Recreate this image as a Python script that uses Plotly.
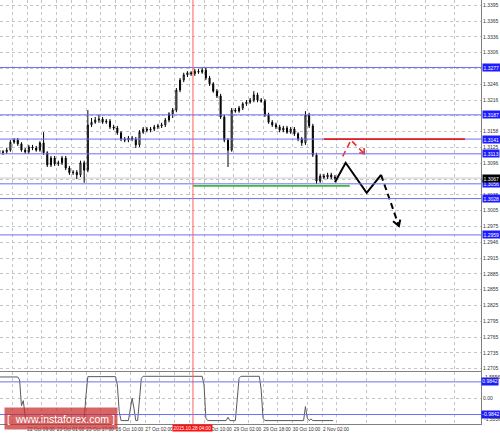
import plotly.graph_objects as go

# ---------------- data ----------------
# 2-hour candles, x = hourly bar index (0 = 21 Oct 17:00)
bar_index = [2 * k + 1 for k in range(92)]
opens = [1.3120,1.3115,1.3117,1.3120,1.3135,1.3139,1.3132,1.3120,1.3117,1.3126,
         1.3124,1.3120,1.3134,1.3115,1.3092,1.3105,1.3094,1.3096,1.3105,1.3086,
         1.3077,1.3078,1.3073,1.3096,1.3082,1.3168,1.3173,1.3177,1.3179,1.3173,
         1.3175,1.3164,1.3162,1.3153,1.3141,1.3139,1.3143,1.3141,1.3130,1.3154,
         1.3160,1.3158,1.3160,1.3164,1.3166,1.3168,1.3177,1.3189,1.3196,1.3234,
         1.3253,1.3263,1.3267,1.3265,1.3270,1.3268,1.3272,1.3257,1.3246,1.3232,
         1.3223,1.3183,1.3139,1.3120,1.3196,1.3194,1.3200,1.3208,1.3211,1.3215,
         1.3225,1.3215,1.3213,1.3187,1.3173,1.3168,1.3164,1.3158,1.3162,1.3154,
         1.3160,1.3151,1.3141,1.3134,1.3187,1.3166,1.3111,1.3061,1.3071,1.3069,
         1.3073,1.3069]
highs = [1.3124,1.3120,1.3124,1.3139,1.3143,1.3143,1.3135,1.3124,1.3130,1.3130,
         1.3128,1.3137,1.3154,1.3118,1.3109,1.3109,1.3100,1.3109,1.3109,1.3090,
         1.3082,1.3082,1.3100,1.3100,1.3196,1.3181,1.3183,1.3187,1.3183,1.3179,
         1.3179,1.3168,1.3166,1.3156,1.3145,1.3147,1.3147,1.3145,1.3158,1.3164,
         1.3164,1.3164,1.3168,1.3170,1.3172,1.3181,1.3192,1.3200,1.3238,1.3257,
         1.3267,1.3270,1.3270,1.3274,1.3274,1.3278,1.3276,1.3261,1.3249,1.3236,
         1.3227,1.3187,1.3143,1.3200,1.3200,1.3204,1.3211,1.3215,1.3219,1.3232,
         1.3229,1.3219,1.3217,1.3191,1.3177,1.3172,1.3168,1.3166,1.3166,1.3164,
         1.3164,1.3154,1.3145,1.3194,1.3191,1.3170,1.3115,1.3075,1.3075,1.3077,
         1.3077,1.3073]
lows = [1.3078,1.3111,1.3113,1.3117,1.3132,1.3128,1.3117,1.3113,1.3113,1.3120,
        1.3117,1.3117,1.3111,1.3088,1.3088,1.3090,1.3090,1.3092,1.3082,1.3073,
        1.3073,1.3065,1.3069,1.3058,1.3078,1.3164,1.3170,1.3172,1.3170,1.3170,
        1.3160,1.3158,1.3149,1.3137,1.3135,1.3135,1.3137,1.3124,1.3126,1.3151,
        1.3154,1.3154,1.3156,1.3160,1.3162,1.3164,1.3173,1.3181,1.3192,1.3230,
        1.3249,1.3259,1.3261,1.3261,1.3265,1.3265,1.3253,1.3242,1.3229,1.3219,
        1.3179,1.3135,1.3088,1.3117,1.3191,1.3191,1.3196,1.3204,1.3208,1.3211,
        1.3211,1.3210,1.3183,1.3170,1.3164,1.3160,1.3154,1.3154,1.3151,1.3151,
        1.3147,1.3137,1.3128,1.3130,1.3162,1.3107,1.3056,1.3058,1.3065,1.3065,
        1.3065,1.3063]
closes = [1.3115,1.3117,1.3120,1.3135,1.3139,1.3132,1.3120,1.3117,1.3126,1.3124,
          1.3120,1.3134,1.3115,1.3092,1.3105,1.3094,1.3096,1.3105,1.3086,1.3077,
          1.3078,1.3073,1.3096,1.3082,1.3168,1.3173,1.3177,1.3179,1.3173,1.3175,
          1.3164,1.3162,1.3153,1.3141,1.3139,1.3143,1.3141,1.3130,1.3154,1.3160,
          1.3158,1.3160,1.3164,1.3166,1.3168,1.3177,1.3189,1.3196,1.3234,1.3253,
          1.3263,1.3267,1.3265,1.3270,1.3268,1.3272,1.3257,1.3246,1.3232,1.3223,
          1.3183,1.3139,1.3120,1.3196,1.3194,1.3200,1.3208,1.3211,1.3215,1.3225,
          1.3215,1.3213,1.3187,1.3173,1.3168,1.3164,1.3158,1.3162,1.3154,1.3160,
          1.3151,1.3141,1.3134,1.3187,1.3166,1.3111,1.3061,1.3071,1.3069,1.3073,
          1.3069,1.3067]

# oscillator (lower panel)
osc_idx = [1, 11, 12, 13, 14, 15, 16, 47, 48, 49, 64, 65, 66, 67, 71, 72, 73, 74, 75, 76,
           77, 78, 79, 111, 112, 113, 114, 124, 125, 126, 129, 130, 131, 132, 142, 143,
           144, 145, 166, 167, 168, 169, 170, 171, 182]
osc_val = [1.28, 1.28, 1.10, -0.45, -0.15, -1.10, -1.30, -1.30, 0.20, 1.30, 1.30, 0.80,
           -0.80, -1.35, -1.35, -0.60, 0.00, -0.60, -1.35, -1.35, 0.00, 1.20, 1.32, 1.32,
           0.80, -1.20, -1.35, -1.35, -1.15, -1.35, -1.35, 0.00, 1.20, 1.32, 1.32, 0.50,
           -1.20, -1.35, -1.35, -0.50, -1.20, -1.35, -1.25, -1.35, -1.35]

# levels
blue_levels = [1.3277, 1.3187, 1.3141, 1.3113, 1.3056, 1.3028, 1.2959]
blue_labels = ["1.3277", "1.3187", "1.3141", "1.3113", "1.3056", "1.3028", "1.2959"]
current_price = 1.3067
red_level = 1.3141
red_span = [177, 253.5]
green_level = 1.3052
green_span = [106, 191]
cursor_bar = 106
osc_levels = [0.9842, -0.9842]
osc_labels = ["0.9842", "-0.9842"]

# forecast paths
fc_solid_x = [183.0, 188.8, 200.2, 208.0]
fc_solid_y = [1.3059, 1.3096, 1.3039, 1.3073]
fc_dash_x = [208.0, 217.7]
fc_dash_y = [1.3073, 1.2976]
fc_head_x = [214.5, 217.7, 218.4]
fc_head_y = [1.2985, 1.2976, 1.2988]
alt_x = [187.2, 191.7, 198.9]
alt_y = [1.3108, 1.3139, 1.3113]
alt_head_x = [196.2, 198.9, 198.8]
alt_head_y = [1.3115, 1.3113, 1.3124]

# axis ticks
x_tickvals = [0, 16, 32, 48, 64, 80, 96, 112, 128, 144, 160, 176]
x_ticktext = ["21 Oct 17:00", "22 Oct 09:00", "23 Oct 01:00", "23 Oct 17:00",
              "26 Oct 10:00", "27 Oct 02:00", "27 Oct 18:00", "28 Oct 10:00",
              "29 Oct 02:00", "29 Oct 18:00", "30 Oct 10:00", "2 Nov 02:00"]
x_minor = [8, 24, 40, 56, 72, 88, 104, 120, 136, 152, 168, 184, 200, 216, 232, 248]
y_tickvals = [1.3395, 1.3365, 1.3335, 1.3305, 1.3275, 1.3245, 1.3215, 1.3185, 1.3155,
              1.3125, 1.3095, 1.3065, 1.3035, 1.3005, 1.2975, 1.2945, 1.2915, 1.2885,
              1.2855, 1.2825, 1.2795, 1.2765, 1.2735, 1.2705]
y_ticktext = ["1.3395", "1.3365", "1.3336", "1.3306", "1.3276", "1.3246", "1.3216",
              "1.3187", "1.3158", "1.3125", "1.3096", "1.3067", "1.3035", "1.3005",
              "1.2975", "1.2946", "1.2915", "1.2885", "1.2855", "1.2825", "1.2795",
              "1.2765", "1.2735", "1.2705"]

# ---------------- figure ----------------
FONT = "Liberation Sans"
GRID = "#c4c4c4"
AX = "#808080"
BLUE = "#6e6ef2"
TXT = "#333333"
FS = 5

fig = go.Figure()

fig.add_trace(go.Candlestick(
    x=bar_index, open=opens, high=highs, low=lows, close=closes,
    increasing=dict(line=dict(color="black", width=1), fillcolor="white"),
    decreasing=dict(line=dict(color="black", width=1), fillcolor="black"),
    whiskerwidth=0, showlegend=False, hoverinfo="skip",
    xaxis="x", yaxis="y"))

fig.add_trace(go.Scatter(x=osc_idx, y=osc_val, mode="lines",
                         line=dict(color="#5a5a5a", width=1),
                         xaxis="x2", yaxis="y2", showlegend=False, hoverinfo="skip"))

fig.add_trace(go.Scatter(x=fc_solid_x, y=fc_solid_y, mode="lines",
                         line=dict(color="black", width=2), showlegend=False, hoverinfo="skip"))
fig.add_trace(go.Scatter(x=fc_dash_x, y=fc_dash_y, mode="lines",
                         line=dict(color="black", width=2, dash="6px,4px"),
                         showlegend=False, hoverinfo="skip"))
fig.add_trace(go.Scatter(x=fc_head_x, y=fc_head_y, mode="lines",
                         line=dict(color="black", width=2), showlegend=False, hoverinfo="skip"))
fig.add_trace(go.Scatter(x=alt_x, y=alt_y, mode="lines",
                         line=dict(color="#ee2a2a", width=1.6, dash="6px,4px"),
                         showlegend=False, hoverinfo="skip"))
fig.add_trace(go.Scatter(x=alt_head_x, y=alt_head_y, mode="lines",
                         line=dict(color="#ee2a2a", width=1.6),
                         showlegend=False, hoverinfo="skip"))

shapes = []
shapes.append(dict(type="line", xref="paper", yref="y", x0=0, x1=1,
                   y0=current_price, y1=current_price,
                   line=dict(color="#c8c8c8", width=1), layer="below"))
for lv in blue_levels:
    shapes.append(dict(type="line", xref="paper", yref="y", x0=0, x1=1, y0=lv, y1=lv,
                       line=dict(color=BLUE, width=1)))
shapes.append(dict(type="line", xref="x", yref="y", x0=red_span[0], x1=red_span[1],
                   y0=red_level, y1=red_level, line=dict(color="#e02020", width=1.6)))
shapes.append(dict(type="line", xref="x", yref="y", x0=green_span[0], x1=green_span[1],
                   y0=green_level, y1=green_level, line=dict(color="#3cb83c", width=1.8)))
shapes.append(dict(type="line", xref="x", yref="paper", x0=cursor_bar, x1=cursor_bar,
                   y0=0, y1=1, line=dict(color="#ff6060", width=1)))
for lv in osc_levels:
    shapes.append(dict(type="line", xref="paper", yref="y2", x0=0, x1=1, y0=lv, y1=lv,
                       line=dict(color=BLUE, width=1)))

annotations = []
small = dict(family=FONT, size=FS, color="white")
for lv, txt in zip(blue_levels, blue_labels):
    annotations.append(dict(xref="paper", yref="y", x=1, y=lv, xanchor="left", yanchor="middle",
                            xshift=1, text=txt, showarrow=False, font=small,
                            bgcolor="#1c1cff", borderpad=0.5))
annotations.append(dict(xref="paper", yref="y", x=1, y=current_price, xanchor="left",
                        yanchor="middle", xshift=1, text="1.3067", showarrow=False,
                        font=small, bgcolor="black", borderpad=0.5))
for lv, txt in zip(osc_levels, osc_labels):
    annotations.append(dict(xref="paper", yref="y2", x=1, y=lv, xanchor="left", yanchor="middle",
                            xshift=0, text=txt, showarrow=False, font=small,
                            bgcolor="#1c1cff", borderpad=0.3))
annotations.append(dict(xref="paper", yref="y2", x=1, y=1.5556, xanchor="left", yanchor="top",
                        xshift=2, text="1.5556", showarrow=False,
                        font=dict(family=FONT, size=FS, color=TXT)))
annotations.append(dict(xref="paper", yref="y2", x=1, y=-1.5556, xanchor="left",
                        yanchor="bottom", xshift=1, text="-1.5556", showarrow=False,
                        font=dict(family=FONT, size=FS, color=TXT)))
annotations.append(dict(xref="x", yref="paper", x=cursor_bar, y=-0.0105, xanchor="center",
                        yanchor="middle", text="2015.10.28 04:00", showarrow=False,
                        font=dict(family=FONT, size=4.8, color="white"),
                        bgcolor="#ff1010", borderpad=0.6))
annotations.append(dict(xref="paper", yref="paper", x=0.127, y=0.012, xanchor="center",
                        yanchor="middle", text="[ &nbsp;www.instaforex.com ]", showarrow=False,
                        font=dict(family=FONT, size=10.5, color="white"),
                        bgcolor="rgba(200,45,45,0.72)", width=110, height=19))

xr = [1.36, 262.2]
grid = dict(showgrid=True, gridcolor=GRID, griddash="dot", gridwidth=1)
fig.update_layout(
    width=500, height=434,
    margin=dict(l=0, r=19, t=0, b=10),
    paper_bgcolor="white", plot_bgcolor="white",
    showlegend=False, boxgap=0.6,
    font=dict(family=FONT, size=FS, color=TXT),
    shapes=shapes, annotations=annotations,
    xaxis=dict(domain=[0, 1], anchor="y", range=xr, rangeslider=dict(visible=False),
               tickvals=x_tickvals, showticklabels=False, ticks="", automargin=False,
               minor=dict(tickvals=x_minor, **grid),
               showline=True, linecolor=AX, linewidth=1, zeroline=False, **grid),
    yaxis=dict(domain=[0.125, 1], anchor="x", side="right", range=[1.27006, 1.34051],
               tickvals=y_tickvals, ticktext=y_ticktext, tickfont=dict(size=FS, color=TXT),
               ticks="", ticklabelstandoff=0, automargin=False,
               showline=True, linecolor=AX, linewidth=1, zeroline=False, **grid),
    xaxis2=dict(domain=[0, 1], anchor="y2", range=xr, matches="x",
                tickvals=x_tickvals, ticktext=x_ticktext, ticklabelshift=14, tickangle=0,
                tickfont=dict(size=4.8, color=TXT), ticks="", automargin=False,
                minor=dict(tickvals=x_minor, **grid),
                showline=True, mirror=True, linecolor=AX, linewidth=1, zeroline=False, **grid),
    yaxis2=dict(domain=[0, 0.1217], anchor="x2", side="right", range=[-1.5556, 1.5556],
                tickvals=[0], ticktext=["0.00"], tickfont=dict(size=FS, color=TXT),
                ticks="", ticklabelstandoff=0, automargin=False,
                showline=True, linecolor=AX, linewidth=1, zeroline=False, **grid),
)

fig.write_html("out.html", config={"displayModeBar": False},
               post_script="document.body.style.margin='0';document.body.style.overflow='hidden';")
